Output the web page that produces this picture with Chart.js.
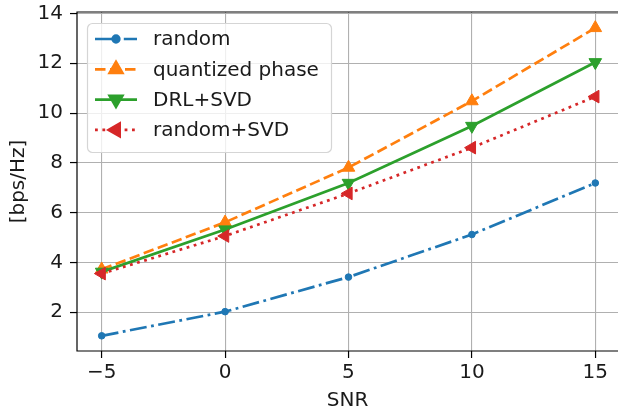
<!DOCTYPE html>
<html>
<head>
<meta charset="utf-8">
<script src="https://cdn.jsdelivr.net/npm/chart.js@4"></script>
<style>
  html, body { margin: 0; padding: 0; background: #fff; overflow: hidden; }
  canvas { display: block; }
</style>
</head>
<body>
<canvas id="chart" width="618" height="413"></canvas>
<script>
// SNR sweep - achievable rate per scheme
const snr = [-5, 0, 5, 10, 15];
const randomRate = [1.05, 2.02, 3.41, 5.12, 7.19];
const quantizedRate = [3.72, 5.61, 7.81, 10.48, 13.42];
const drlSvdRate = [3.62, 5.32, 7.19, 9.48, 12.04];
const randomSvdRate = [3.55, 5.06, 6.77, 8.61, 10.66];
const seriesNames = ['random', 'quantized phase', 'DRL+SVD', 'random+SVD'];
const xTicks = [-5, 0, 5, 10, 15];
const yTicks = [2, 4, 6, 8, 10, 12, 14];

const FONT = 'DejaVu Sans';
const FS = 20;
const LW = 2.7;

function pts(ys) {
    return snr.map((x, i) => ({ x: x, y: ys[i] }));
}

const series = [
    { label: seriesNames[0], data: randomRate, color: '#1f77b4', dash: [17, 4.5, 2.8, 4.5], style: 'circle', radius: 3.3, rot: 0 },
    { label: seriesNames[1], data: quantizedRate, color: '#ff7f0e', dash: [10.5, 4.5], style: 'triangle', radius: 7.3, rot: 0 },
    { label: seriesNames[2], data: drlSvdRate, color: '#2ca02c', dash: [], style: 'triangle', radius: 7.3, rot: 180 },
    { label: seriesNames[3], data: randomSvdRate, color: '#d62728', dash: [2.8, 4.6], style: 'triangle', radius: 7.3, rot: 270 }
];

// matplotlib-like frame (right spine falls just outside the picture) + legend box
const framePlugin = {
    id: 'frame',
    afterDatasetsDraw(chart) {
        const ctx = chart.ctx;
        const a = chart.chartArea;
        ctx.save();
        ctx.strokeStyle = '#000';
        ctx.lineWidth = 1.2;
        ctx.beginPath();
        ctx.moveTo(a.right + 2, a.top);
        ctx.lineTo(a.left, a.top);
        ctx.lineTo(a.left, a.bottom);
        ctx.lineTo(a.right + 2, a.bottom);
        ctx.stroke();

        // legend
        const bx = 87, by = 23, bw = 244, bh = 129, r = 5;
        ctx.beginPath();
        ctx.roundRect(bx + 0.5, by + 0.5, bw, bh, r);
        ctx.fillStyle = 'rgba(255,255,255,0.8)';
        ctx.fill();
        ctx.strokeStyle = '#d5d5d5';
        ctx.lineWidth = 1.2;
        ctx.stroke();

        ctx.font = FS + 'px "' + FONT + '"';
        ctx.textBaseline = 'middle';
        ctx.textAlign = 'left';
        series.forEach((s, i) => {
            const y = 39 + i * 30.3;
            ctx.strokeStyle = s.color;
            ctx.lineWidth = LW;
            ctx.setLineDash(s.dash);
            ctx.beginPath();
            ctx.moveTo(95, y);
            ctx.lineTo(137, y);
            ctx.stroke();
            ctx.setLineDash([]);
            ctx.fillStyle = s.color;
            Chart.helpers.drawPoint(ctx, {
                pointStyle: s.style, radius: s.radius, rotation: s.rot, borderWidth: 1
            }, 116, y);
            ctx.fillStyle = '#1a1a1a';
            ctx.fillText(s.label, 153, y + 1);
        });
        ctx.restore();
    }
};

const datasets = series.map((s, i) => ({
    label: s.label,
    data: pts(s.data),
    borderColor: s.color,
    backgroundColor: s.color,
    borderWidth: LW,
    borderDash: s.dash,
    pointStyle: s.style,
    pointRadius: s.radius,
    pointRotation: s.rot,
    pointBorderWidth: 1,
    pointBorderColor: s.color,
    pointBackgroundColor: s.color,
    tension: 0,
    order: series.length - i
}));

new Chart(document.getElementById('chart'), {
    type: 'line',
    data: { datasets: datasets },
    plugins: [framePlugin],
    options: {
        responsive: false,
        animation: false,
        devicePixelRatio: 1,
        layout: { autoPadding: false, padding: { left: 0, top: 12, right: 0, bottom: 0 } },
        plugins: {
            legend: { display: false },
            tooltip: { enabled: false }
        },
        scales: {
            x: {
                type: 'linear',
                min: -6,
                max: 15.92,
                afterBuildTicks: s => { s.ticks = xTicks.map(v => ({ value: v })); },
                afterFit: s => { s.height = 62; s.paddingLeft = 0; s.paddingRight = 0; },
                border: { display: false },
                grid: { color: '#b0b0b0', lineWidth: 1.1, tickColor: '#000', tickLength: 7, tickWidth: 1.2 },
                ticks: {
                    color: '#1a1a1a',
                    padding: 3,
                    maxRotation: 0,
                    font: { family: FONT, size: FS },
                    callback: v => (v < 0 ? '\u2212' + Math.abs(v) : '' + v)
                },
                title: { display: true, text: 'SNR', color: '#1a1a1a', font: { family: FONT, size: FS }, padding: { top: 0, bottom: 0 } }
            },
            y: {
                min: 0.44,
                max: 14.06,
                afterBuildTicks: s => { s.ticks = yTicks.map(v => ({ value: v })); },
                afterFit: s => { s.width = 77; s.paddingTop = 0; s.paddingBottom = 0; },
                border: { display: false },
                grid: { color: '#b0b0b0', lineWidth: 1.1, tickColor: '#000', tickLength: 7, tickWidth: 1.2 },
                ticks: {
                    color: '#1a1a1a',
                    padding: 7,
                    font: { family: FONT, size: FS },
                    callback: v => '' + v
                },
                title: { display: true, text: '[bps/Hz]', color: '#1a1a1a', font: { family: FONT, size: FS }, padding: { top: 7, bottom: 0 } }
            }
        }
    }
});
</script>
</body>
</html>
